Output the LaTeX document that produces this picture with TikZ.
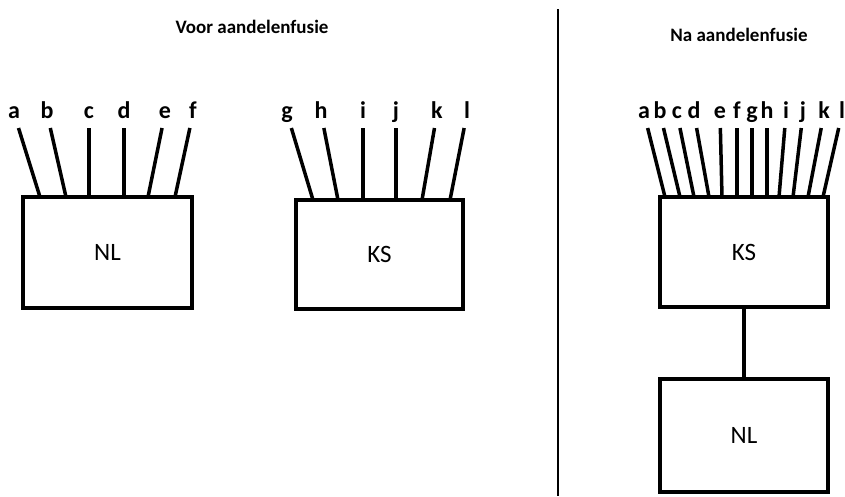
\documentclass[tikz,border=0pt]{standalone}
\usepackage{fontspec}
\setmainfont{Carlito}

\begin{document}
\begin{tikzpicture}[x=1pt,y=-1pt,
  title/.style={font=\fontsize{19}{19}\selectfont\bfseries, anchor=base, inner sep=0pt},
  letter/.style={font=\fontsize{24}{24}\selectfont\bfseries, anchor=base, inner sep=0pt, outer sep=2pt, text height=17pt, text depth=8pt},
  box/.style={draw, line width=4pt, inner sep=0pt, minimum width=168pt, minimum height=110pt, font=\fontsize{25}{25}\selectfont},
  leg/.style={line width=3.5pt}]
 \useasboundingbox (0,0) rectangle (845,496);

 \draw (252,33) node[title] (voor) {Voor aandelenfusie};
 \draw (739,41) node[title] (na) {Na aandelenfusie};
 \draw[line width=2pt] (558,9) -- (558,496);

 % voor: NL
 \draw (107.5,252.5) node[box, minimum width=169pt, minimum height=111pt] (nl) {NL};
   \draw (14,118) node[letter] (a) {a};
   \draw (47,118) node[letter] (b) {b};
   \draw (89,118) node[letter] (c) {c};
   \draw (124,118) node[letter] (d) {d};
   \draw (165,118) node[letter] (e) {e};
   \draw (193,118) node[letter] (f) {f};
   \coordinate (a-foot) at (40,197);
   \coordinate (b-foot) at (66,197);
   \coordinate (c-foot) at (89,197);
   \coordinate (d-foot) at (124,197);
   \coordinate (e-foot) at (148,197);
   \coordinate (f-foot) at (175,197);

 % voor: KS
 \draw (379.5,254.5) node[box, minimum width=167pt, minimum height=109pt] (ks) {KS};
   \draw (287,118) node[letter] (g) {g};
   \draw (321,118) node[letter] (h) {h};
   \draw (363,118) node[letter] (i) {i};
   \draw (396,118) node[letter] (j) {j};
   \draw (437,118) node[letter] (k) {k};
   \draw (467,118) node[letter] (l) {l};
   \coordinate (g-foot) at (313,200);
   \coordinate (h-foot) at (338,200);
   \coordinate (i-foot) at (363,200);
   \coordinate (j-foot) at (396,200);
   \coordinate (k-foot) at (422,200);
   \coordinate (l-foot) at (450,200);

 \path[leg] (a) edge (a-foot);
 \path[leg] (b) edge (b-foot);
 \path[leg] (c) edge (c-foot);
 \path[leg] (d) edge (d-foot);
 \path[leg] (e) edge (e-foot);
 \path[leg] (f) edge (f-foot);
 \path[leg] (g) edge (g-foot);
 \path[leg] (h) edge (h-foot);
 \path[leg] (i) edge (i-foot);
 \path[leg] (j) edge (j-foot);
 \path[leg] (k) edge (k-foot);
 \path[leg] (l) edge (l-foot);

 % na: KS boven NL
 \draw (744,252) node[box] (ks-na) {KS};
 \draw (744,435) node[box, minimum height=113pt] (nl-na) {NL};
 \path[line width=4pt] (ks-na) edge (nl-na);
   \draw (644,118) node[letter] (na-a) {a};
   \draw (660,118) node[letter] (na-b) {b};
   \draw (677,118) node[letter] (na-c) {c};
   \draw (694,118) node[letter] (na-d) {d};
   \draw (720,118) node[letter] (na-e) {e};
   \draw (737,118) node[letter] (na-f) {f};
   \draw (752,118) node[letter] (na-g) {g};
   \draw (767,118) node[letter] (na-h) {h};
   \draw (786,118) node[letter] (na-i) {i};
   \draw (803,118) node[letter] (na-j) {j};
   \draw (824,118) node[letter] (na-k) {k};
   \draw (842,118) node[letter] (na-l) {l};
   \coordinate (na-a-foot) at (665,197);
   \coordinate (na-b-foot) at (680,197);
   \coordinate (na-c-foot) at (694,197);
   \coordinate (na-d-foot) at (709,197);
   \coordinate (na-e-foot) at (722,197);
   \coordinate (na-f-foot) at (737,197);
   \coordinate (na-g-foot) at (752,197);
   \coordinate (na-h-foot) at (767,197);
   \coordinate (na-i-foot) at (779,197);
   \coordinate (na-j-foot) at (793,197);
   \coordinate (na-k-foot) at (808,197);
   \coordinate (na-l-foot) at (823,197);

 \path[leg] (na-a) edge (na-a-foot);
 \path[leg] (na-b) edge (na-b-foot);
 \path[leg] (na-c) edge (na-c-foot);
 \path[leg] (na-d) edge (na-d-foot);
 \path[leg] (na-e) edge (na-e-foot);
 \path[leg] (na-f) edge (na-f-foot);
 \path[leg] (na-g) edge (na-g-foot);
 \path[leg] (na-h) edge (na-h-foot);
 \path[leg] (na-i) edge (na-i-foot);
 \path[leg] (na-j) edge (na-j-foot);
 \path[leg] (na-k) edge (na-k-foot);
 \path[leg] (na-l) edge (na-l-foot);

\end{tikzpicture}
\end{document}
